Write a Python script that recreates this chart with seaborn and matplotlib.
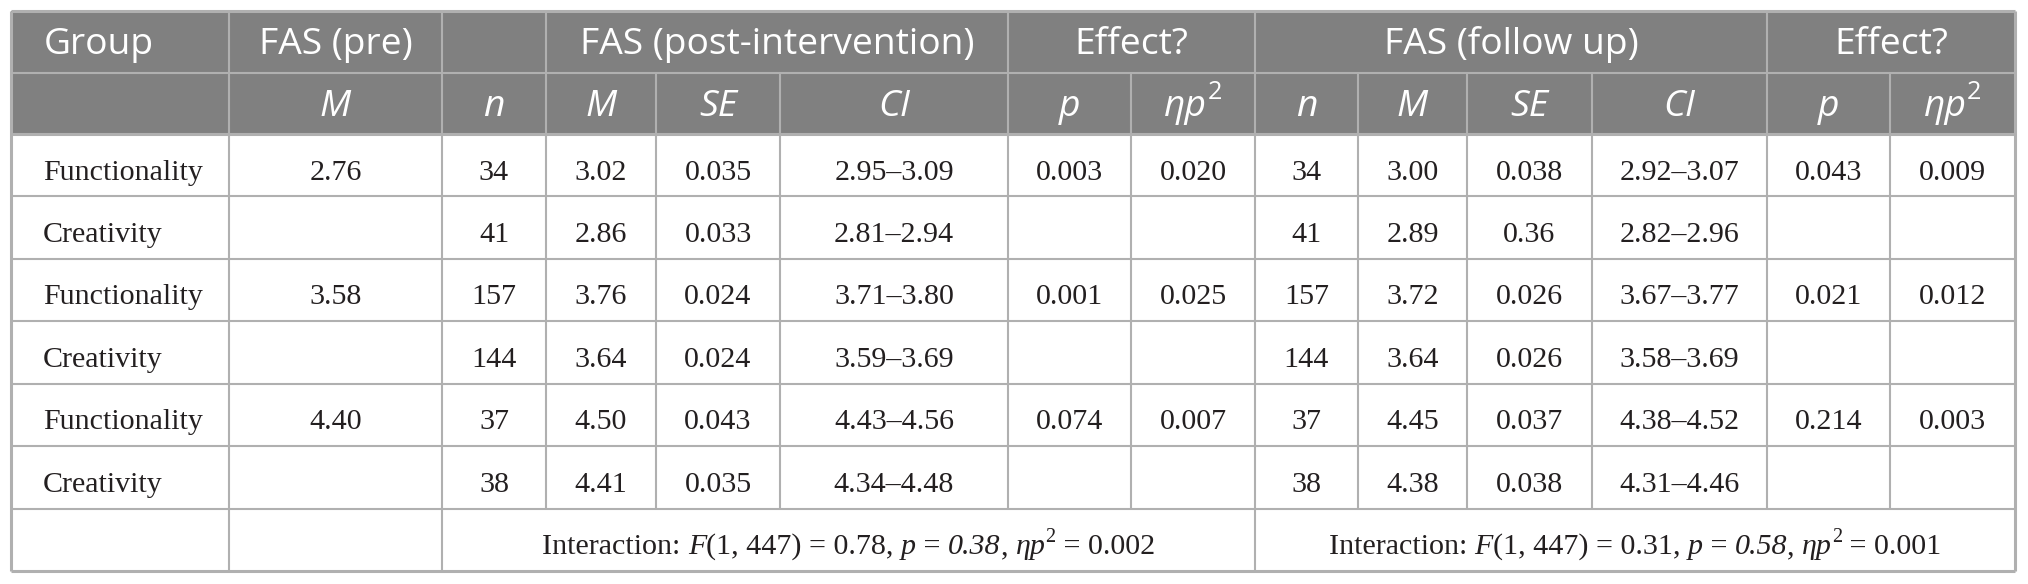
import numpy as np
import pandas as pd
import matplotlib
matplotlib.use("Agg")
import matplotlib.pyplot as plt
from matplotlib.patches import Rectangle
import seaborn as sns

# Table contents
groups = ["Functionality", "Creativity", "Functionality", "Creativity", "Functionality", "Creativity"]
pre_m = ["2.76", "", "3.58", "", "4.40", ""]
post_n = ["34", "41", "157", "144", "37", "38"]
post_m = ["3.02", "2.86", "3.76", "3.64", "4.50", "4.41"]
post_se = ["0.035", "0.033", "0.024", "0.024", "0.043", "0.035"]
post_ci = ["2.95–3.09", "2.81–2.94", "3.71–3.80", "3.59–3.69", "4.43–4.56", "4.34–4.48"]
post_p = ["0.003", "", "0.001", "", "0.074", ""]
post_eta = ["0.020", "", "0.025", "", "0.007", ""]
fu_n = ["34", "41", "157", "144", "37", "38"]
fu_m = ["3.00", "2.89", "3.72", "3.64", "4.45", "4.38"]
fu_se = ["0.038", "0.36", "0.026", "0.026", "0.037", "0.038"]
fu_ci = ["2.92–3.07", "2.82–2.96", "3.67–3.77", "3.58–3.69", "4.38–4.52", "4.31–4.46"]
fu_p = ["0.043", "", "0.021", "", "0.214", ""]
fu_eta = ["0.009", "", "0.012", "", "0.003", ""]

header_top = [("Group", 0, 1), ("FAS (pre)", 1, 2), ("", 2, 3),
              ("FAS (post-intervention)", 3, 6), ("Effect?", 6, 8),
              ("FAS (follow up)", 8, 12), ("Effect?", 12, 14)]
header_sub = ["", "M", "n", "M", "SE", "CI", "p", "ηp2", "n", "M", "SE", "CI", "p", "ηp2"]

interaction_df = "1, 447"
post_F, post_pval, post_eta_int = "0.78", "0.38", "0.002"
fu_F, fu_pval, fu_eta_int = "0.31", "0.58", "0.001"

df = pd.DataFrame({
    "group": groups, "pre_m": pre_m,
    "post_n": post_n, "post_m": post_m, "post_se": post_se, "post_ci": post_ci,
    "post_p": post_p, "post_eta": post_eta,
    "fu_n": fu_n, "fu_m": fu_m, "fu_se": fu_se, "fu_ci": fu_ci,
    "fu_p": fu_p, "fu_eta": fu_eta,
})

# Layout (pixels, figure drawn 1:1)
col_x = [11, 229, 442, 546, 656, 780, 1008, 1131, 1255, 1358, 1467, 1592, 1767, 1890, 2015]
row_y = [11, 73, 134] + list(np.linspace(134, 571, 8)[1:])
line_c = "#b0b0b0"
head_c = "#808080"
text_c = "#231f20"
sans = "Open Sans"
serif = "Liberation Serif"
head_size = 26.8
body_size = 21.6

sns.set_theme(style="white")
plt.rcParams["font.family"] = [serif, "DejaVu Serif"]

fig = plt.figure(figsize=(20.28, 5.84), dpi=100)
ax = fig.add_axes([0, 0, 1, 1])
ax.set_xlim(0, 2028)
ax.set_ylim(584, 0)
ax.axis("off")
fig.canvas.draw()
renderer = fig.canvas.get_renderer()


def text_width(s, **kw):
    # width including leading/trailing spaces
    t1 = ax.text(0, 0, "|" + s + "|", **kw)
    t2 = ax.text(0, 0, "||", **kw)
    w = t1.get_window_extent(renderer).width - t2.get_window_extent(renderer).width
    t1.remove()
    t2.remove()
    return w


def draw_runs(runs, xc, yb):
    # runs: (text, family, size, style, raise in px)
    widths = [text_width(s, family=f, size=sz, style=st) for s, f, sz, st, r in runs]
    x = xc - sum(widths) / 2
    for (s, f, sz, st, r), w in zip(runs, widths):
        ax.text(x, yb - r, s, family=f, size=sz, style=st, color=text_c if f == serif else "white",
                ha="left", va="baseline")
        x += w


def baseline(r0, r1, frac):
    return r0 + frac * (r1 - r0)


# Backgrounds
ax.add_patch(Rectangle((col_x[0], row_y[0]), col_x[-1] - col_x[0], row_y[2] - row_y[0],
                       facecolor=head_c, edgecolor="none", zorder=0))

# Header row 1
yb = baseline(row_y[0], row_y[1], 0.70)
for label, c0, c1 in header_top:
    if not label:
        continue
    if c0 == 0:
        ax.text(44, yb, label, family=sans, size=head_size, color="white", ha="left", va="baseline")
    else:
        ax.text((col_x[c0] + col_x[c1]) / 2, yb, label, family=sans, size=head_size,
                color="white", ha="center", va="baseline")

# Header row 2
yb = baseline(row_y[1], row_y[2], 0.70)
for i, label in enumerate(header_sub):
    if not label:
        continue
    xc = (col_x[i] + col_x[i + 1]) / 2
    if label == "ηp2":
        draw_runs([("ηp", sans, head_size, "italic", 0),
                   ("2", sans, head_size * 0.68, "normal", 17)], xc, yb)
    else:
        ax.text(xc, yb, label, family=sans, size=head_size, style="italic",
                color="white", ha="center", va="baseline")

# Body rows
for r in range(len(df)):
    r0, r1 = row_y[3 + r - 1], row_y[3 + r]
    yb = baseline(r0, r1, 0.73)
    row = df.iloc[r]
    ax.text(43, yb, row["group"], family=serif, size=body_size, color=text_c, ha="left", va="baseline")
    for j, key in enumerate(df.columns[1:], start=1):
        if row[key]:
            ax.text((col_x[j] + col_x[j + 1]) / 2, yb, row[key], family=serif, size=body_size,
                    color=text_c, ha="center", va="baseline")

# Interaction row
yb = baseline(row_y[-2], row_y[-1], 0.73)
for (c0, c1), (F, pv, eta) in zip([(2, 8), (8, 14)],
                                  [(post_F, post_pval, post_eta_int), (fu_F, fu_pval, fu_eta_int)]):
    runs = [("Interaction: ", serif, body_size, "normal", 0),
            ("F", serif, body_size, "italic", 0),
            (f"({interaction_df}) = {F}, ", serif, body_size, "normal", 0),
            ("p", serif, body_size, "italic", 0),
            (" = ", serif, body_size, "normal", 0),
            (pv, serif, body_size, "italic", 0),
            (", ", serif, body_size, "normal", 0),
            ("ηp", serif, body_size, "italic", 0),
            ("2", serif, body_size * 0.68, "normal", 12),
            (f" = {eta}", serif, body_size, "normal", 0)]
    draw_runs(runs, (col_x[c0] + col_x[c1]) / 2, yb)

# Grid lines
lw = 1.5
for y in row_y[1:-1]:
    ax.hlines(y, col_x[0], col_x[-1], color=line_c, lw=2.2 if y == row_y[2] else lw, zorder=2)
ax.hlines([row_y[0], row_y[-1]], col_x[0], col_x[-1], color=line_c, lw=2.2, zorder=2)
ax.vlines([col_x[0], col_x[-1]], row_y[0], row_y[-1], color=line_c, lw=2.2, zorder=2)
top_edges = sorted({col_x[c] for _, c0, c1 in header_top for c in (c0, c1)} - {col_x[0], col_x[-1]})
ax.vlines(top_edges, row_y[0], row_y[1], color=line_c, lw=lw, zorder=2)
ax.vlines(col_x[1:-1], row_y[1], row_y[-2], color=line_c, lw=lw, zorder=2)
ax.vlines([col_x[1], col_x[2], col_x[8]], row_y[-2], row_y[-1], color=line_c, lw=lw, zorder=2)

fig.savefig("out.png", dpi=100, facecolor="white")
